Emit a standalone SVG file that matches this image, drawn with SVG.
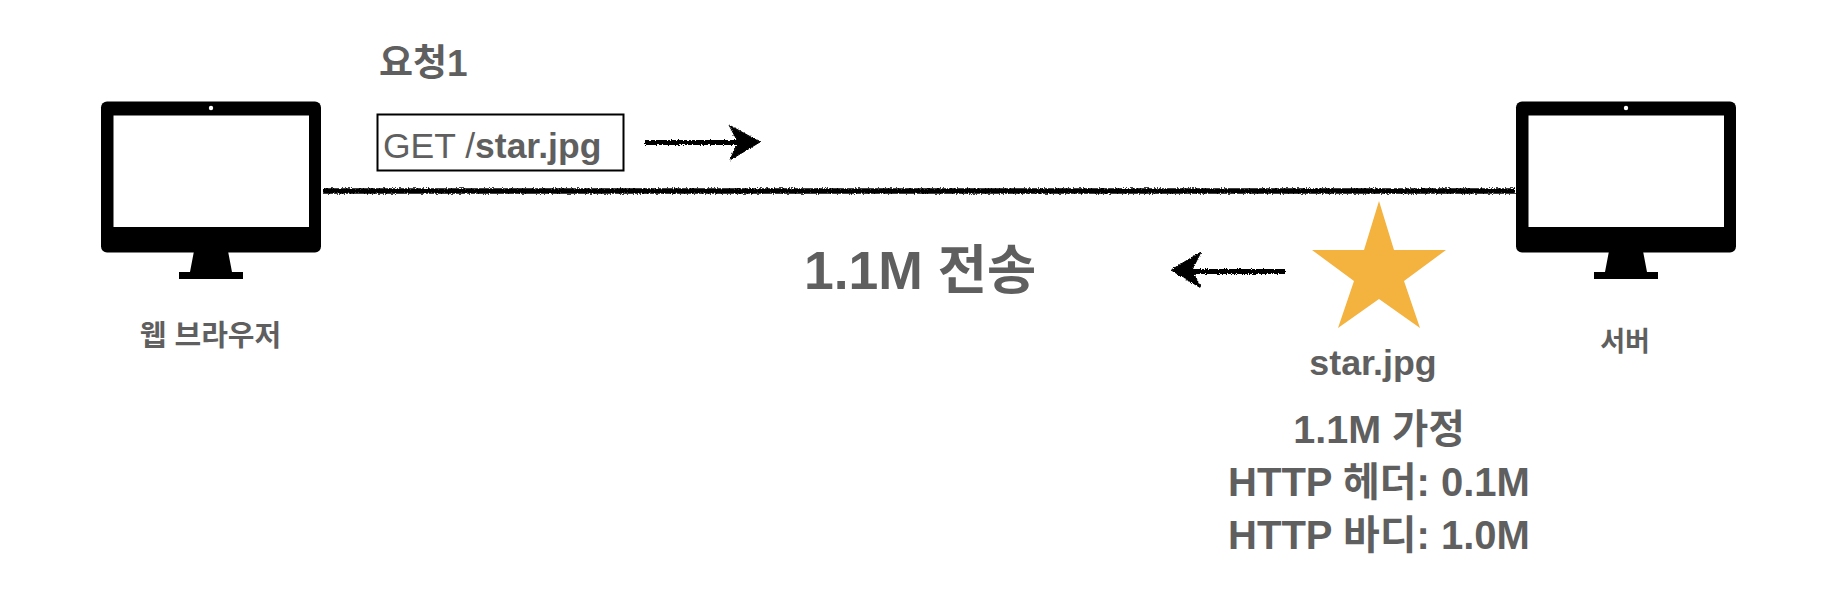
<svg xmlns="http://www.w3.org/2000/svg" width="1822" height="606" viewBox="0 0 1822 606">
<style>
text{font-family:"Liberation Sans","Noto Sans CJK KR",sans-serif;fill:#5f5f5f;font-weight:700}
.c{text-anchor:middle}
.rough{stroke:#000;fill:none;filter:url(#rough)}
.head{fill:#000;stroke:#000;stroke-width:1;filter:url(#rough)}
</style>
<defs>
<filter id="rough" filterUnits="userSpaceOnUse" x="0" y="0" width="1822" height="606">
<feTurbulence type="fractalNoise" baseFrequency="0.7" numOctaves="2" seed="4" result="n"/>
<feDisplacementMap in="SourceGraphic" in2="n" scale="3.5" xChannelSelector="R" yChannelSelector="G"/>
</filter>
<g id="monitor">
<rect x="101" y="101.500" width="220" height="151" rx="6" fill="#000"/>
<rect x="113.500" y="115.500" width="195.500" height="111.500" fill="#fff"/>
<circle cx="211" cy="108" r="2.200" fill="#fff"/>
<path d="M194 251H228L232 272H243V279H179V272H190Z" fill="#000"/>
</g>
</defs>
<rect width="1822" height="606" fill="#fff"/>
<g id="connectors">
<path class="rough" stroke-width="5.500" d="M323 191H1515"/>
<g id="arrow-request">
<path class="rough" stroke-width="5" d="M645 142.500H745"/>
<path class="head" d="M729 125L760 142L730 160L738 142Z"/>
</g>
<g id="arrow-response">
<path class="rough" stroke-width="5" d="M1285 271.500H1185"/>
<path class="head" d="M1201 252L1171 270L1201 288L1192 270Z"/>
</g>
</g>
<g id="browser">
<use href="#monitor"/>
<text class="c" x="210.500" y="346" font-size="29">웹 브라우저</text>
</g>
<g id="server">
<use href="#monitor" x="1415"/>
<text class="c" x="1625" y="351" font-size="27">서버</text>
</g>
<g id="request">
<text x="379" y="76" font-size="37">요청1</text>
<rect x="377.500" y="114.500" width="246" height="56" fill="none" stroke="#000" stroke-width="2"/>
<text x="383" y="158" font-size="35.500"><tspan font-weight="400">GET /</tspan>star.jpg</text>
</g>
<g id="transfer">
<text x="804" y="289" font-size="53.500">1.1M 전송</text>
</g>
<g id="star">
<path d="M1379 201L1394 250H1446L1404 281L1420 328L1379 299L1338 328L1354 281L1312 250H1364Z" fill="#f4b23f"/>
<text class="c" x="1373" y="375" font-size="35.800">star.jpg</text>
</g>
<g id="notes">
<text class="c" x="1379" y="443" font-size="39.500">1.1M 가정</text>
<text class="c" x="1379" y="496" font-size="40">HTTP 헤더: 0.1M</text>
<text class="c" x="1379" y="549" font-size="40">HTTP 바디: 1.0M</text>
</g>
</svg>
